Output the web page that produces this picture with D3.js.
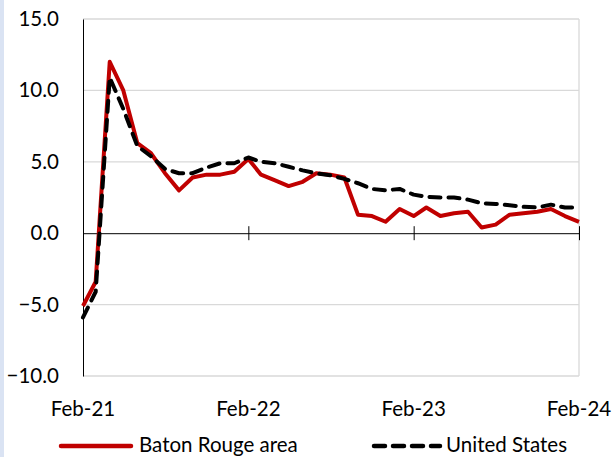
<!DOCTYPE html>
<html>
<head>
<meta charset="utf-8">
<script src="https://cdn.jsdelivr.net/npm/d3@7"></script>
<style>
  body { margin: 0; background: #fff; }
  svg { display: block; }
  text { font-family: Lato, "Open Sans", sans-serif; fill: #000; }
</style>
</head>
<body>
<svg id="chart"></svg>
<script>
/* data: monthly values Feb-21 .. Feb-24 */
var startMonth = new Date(2021, 1, 1);
var batonRouge = [-5.1, -3.4, 12.0, 10.0, 6.3, 5.6, 4.2, 3.0, 3.9, 4.1, 4.1, 4.3,
                  5.2, 4.1, 3.7, 3.3, 3.6, 4.2, 4.1, 3.9, 1.3, 1.2, 0.8, 1.7,
                  1.2, 1.8, 1.2, 1.4, 1.5, 0.4, 0.6, 1.3, 1.4, 1.5, 1.7, 1.2, 0.8];
var unitedStates = [-5.9, -4.1, 10.9, 8.7, 6.1, 5.4, 4.5, 4.2, 4.2, 4.6, 4.9, 4.9,
                    5.3, 5.0, 4.9, 4.65, 4.4, 4.2, 4.05, 3.8, 3.5, 3.1, 3.0, 3.1,
                    2.7, 2.55, 2.5, 2.5, 2.35, 2.1, 2.05, 1.95, 1.85, 1.8, 2.0, 1.8, 1.8];
var yTicks = [-10, -5, 0, 5, 10, 15];
var xTickLabels = ["Feb-21", "Feb-22", "Feb-23", "Feb-24"];
var seriesNames = ["Baton Rouge area", "United States"];

var W = 616, H = 457;
var plot = {left: 83, right: 579, top: 19, bottom: 376};

var svg = d3.select('#chart').attr('width', W).attr('height', H);

// light blue strip on the left edge
svg.append('rect').attr('x', 0).attr('y', 0).attr('width', 4).attr('height', H)
    .style('fill', '#dae3f3');

var months = batonRouge.map((d, i) => d3.timeMonth.offset(startMonth, i));

var x = d3.scaleTime()
    .domain([startMonth, months[months.length - 1]])
    .range([plot.left, plot.right]);

var y = d3.scaleLinear()
    .domain([-10, 15])
    .range([plot.bottom, plot.top]);

/* gridlines */
svg.append('g')
    .selectAll('line.grid')
    .data(yTicks.filter(d => d !== 0))
    .enter()
    .append('line')
    .attr('class', 'grid')
    .attr('x1', plot.left).attr('x2', plot.right)
    .attr('y1', d => y(d)).attr('y2', d => y(d))
    .style('stroke', '#d9d9d9').style('stroke-width', 1.3);

// right border of plot area
svg.append('line')
    .attr('x1', plot.right).attr('x2', plot.right)
    .attr('y1', plot.top).attr('y2', plot.bottom)
    .style('stroke', '#d9d9d9').style('stroke-width', 1.3);

/* y axis */
var yAxis = svg.append('g')
    .attr('transform', `translate(${plot.left},0)`)
    .call(d3.axisLeft(y).tickValues(yTicks).tickFormat(d3.format('.1f')).tickSize(0).tickPadding(24));
yAxis.select('.domain').style('stroke', '#000').style('stroke-width', 1);
yAxis.selectAll('text').style('font-size', '20.5px').attr('fill', '#000');

/* x axis on the zero line */
var xTickDates = xTickLabels.map((d, i) => d3.timeYear.offset(startMonth, i));
var xAxis = svg.append('g')
    .attr('transform', `translate(0,${y(0)})`)
    .call(d3.axisBottom(x).tickValues(xTickDates).tickSizeInner(7).tickSizeOuter(0).tickFormat(() => ''));
xAxis.select('.domain').style('stroke', '#000').style('stroke-width', 1);
xAxis.selectAll('.tick line').attr('y1', -7).style('stroke', '#000');

svg.append('g')
    .selectAll('text.xlab')
    .data(xTickLabels)
    .enter()
    .append('text')
    .attr('class', 'xlab')
    .attr('x', (d, i) => x(xTickDates[i]))
    .attr('y', 416)
    .attr('text-anchor', 'middle')
    .style('font-size', '20.5px')
    .text(d => d);

/* lines */
var line = d3.line()
    .x((d, i) => x(months[i]))
    .y(d => y(d));

svg.append('path')
    .datum(batonRouge)
    .attr('d', line)
    .style('fill', 'none')
    .style('stroke', '#c00000')
    .style('stroke-width', 4)
    .style('stroke-linejoin', 'round');

svg.append('path')
    .datum(unitedStates)
    .attr('d', line)
    .style('fill', 'none')
    .style('stroke', '#000')
    .style('stroke-width', 4)
    .style('stroke-dasharray', '11,8')
    .style('stroke-linecap', 'round')
    .style('stroke-linejoin', 'round');

/* legend */
var legend = svg.append('g');
legend.append('line')
    .attr('x1', 61).attr('x2', 131).attr('y1', 446).attr('y2', 446)
    .style('stroke', '#c00000').style('stroke-width', 4.5).style('stroke-linecap', 'round');
legend.append('text').attr('x', 139).attr('y', 452).style('font-size', '20.5px').text(seriesNames[0]);

legend.append('line')
    .attr('x1', 374).attr('x2', 440).attr('y1', 446).attr('y2', 446)
    .style('stroke', '#000').style('stroke-width', 4.5)
    .style('stroke-dasharray', '11,8').style('stroke-linecap', 'round');
legend.append('text').attr('x', 446).attr('y', 452).style('font-size', '20.5px').text(seriesNames[1]);
</script>
</body>
</html>
